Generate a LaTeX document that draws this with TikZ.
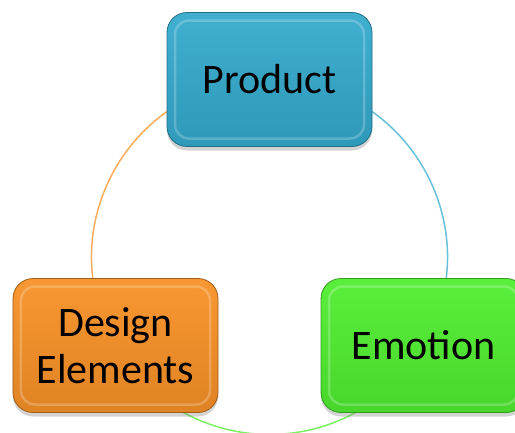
\documentclass[tikz,border=0pt]{standalone}
\usepackage{fontspec}
\setmainfont{Carlito}
\usetikzlibrary{shadows,backgrounds}
\definecolor{sky}{RGB}{52,170,205}
\definecolor{tangerine}{RGB}{248,145,38}
\definecolor{lime}{RGB}{80,238,48}
\tikzset{
  gel/.style={rounded corners=20bp,draw=#1!65!black,thick,
    top color=#1!94!white,bottom color=#1!90!black,
    minimum width=205bp,minimum height=134bp,inner sep=0pt,align=center,
    font=\fontsize{42bp}{47bp}\selectfont,
    drop shadow={opacity=0.35,shadow xshift=0bp,shadow yshift=-4bp},
    path picture={
      \draw[white,opacity=0.22,line width=2.5bp,rounded corners=14bp]
        ([shift={(8bp,-8bp)}]path picture bounding box.north west) rectangle
        ([shift={(-8bp,8bp)}]path picture bounding box.south east);
    }},
  gel/.default=sky,
  ring/.style={line width=1.5bp,draw=#1!75!white},
  ring/.default=sky,
}

\begin{document}
\begin{tikzpicture}[x=1bp,y=-1bp]
  \useasboundingbox (0,0) rectangle (515,432);
  \clip (0,0) rectangle (515,432);
  % the three boxes
  \node[gel=sky] (prod) at (269.5,79.5) {Product};
  \node[gel=tangerine] (design) at (115.5,345.5) {Design\\Elements};
  \node[gel=lime] (emo) at (423.5,345.5) {Emotion};
  % ring behind them
  \begin{scope}[on background layer]
    \draw[ring=tangerine] (design.center) to[bend left=60,looseness=1.14] (prod.center);
    \draw[ring=sky] (prod.center) to[bend left=60,looseness=1.14] (emo.center);
    \draw[ring=lime] (emo.center) to[bend left=60,looseness=1.14] (design.center);
  \end{scope}
\end{tikzpicture}
\end{document}
